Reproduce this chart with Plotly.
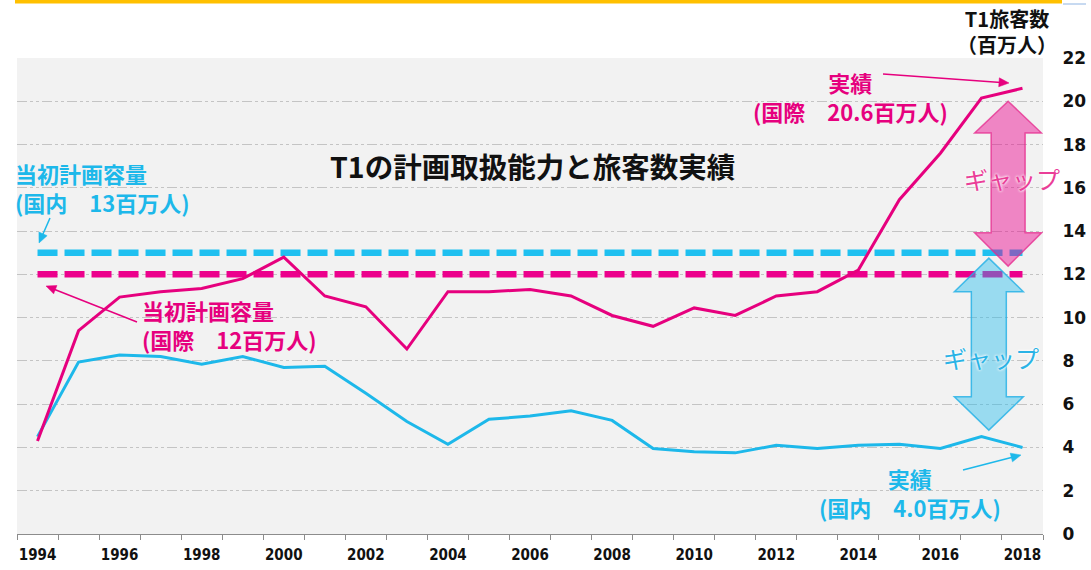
import math
import plotly.graph_objects as go

# ---- data ----
years = list(range(1994, 2019))
intl_actual = [4.3, 9.4, 10.95, 11.2, 11.35, 11.8, 12.8, 11.0, 10.5, 8.55, 11.2, 11.2, 11.3,
               11.0, 10.1, 9.6, 10.45, 10.1, 11.0, 11.2, 12.2, 15.45, 17.6, 20.15, 20.6]
dom_actual = [4.5, 7.95, 8.27, 8.2, 7.85, 8.2, 7.7, 7.75, 6.5, 5.2, 4.15, 5.3, 5.45,
              5.7, 5.25, 3.95, 3.8, 3.75, 4.1, 3.95, 4.1, 4.15, 3.95, 4.5, 4.0]
dom_plan = 13
intl_plan = 12
x_tick_years = list(range(1994, 2019, 2))
x_tick_labels = [str(y) for y in x_tick_years]
y_ticks = list(range(0, 23, 2))

# ---- style ----
PINK = "#e6007e"
BLUE = "#1db8ea"
W, H = 1091, 570
L, R, T, B = 17, 48, 58, 36
PW, PH = W - L - R, H - T - B
JP = "Noto Sans CJK JP"


def px(X):
    return (X - L) / PW


def py(Y):
    return (H - B - Y) / PH


fig = go.Figure()

# plan capacity dashed lines
fig.add_trace(go.Scatter(x=[years[0], years[-1]], y=[dom_plan, dom_plan], mode="lines",
                         line=dict(color="#1fc0f0", width=6.5, dash="20px,7px"),
                         hoverinfo="skip", showlegend=False))
fig.add_trace(go.Scatter(x=[years[0], years[-1]], y=[intl_plan, intl_plan], mode="lines",
                         line=dict(color="#ec008c", width=6.5, dash="20px,7px"),
                         hoverinfo="skip", showlegend=False))
# actual lines
fig.add_trace(go.Scatter(x=years, y=dom_actual, mode="lines",
                         line=dict(color=BLUE, width=3), showlegend=False))
fig.add_trace(go.Scatter(x=years, y=intl_actual, mode="lines",
                         line=dict(color=PINK, width=3), showlegend=False))


def double_arrow(cx, top, hb_top, hb_bot, bot, head_hw, shaft_hw):
    pts = [(cx, top), (cx + head_hw, hb_top), (cx + shaft_hw, hb_top), (cx + shaft_hw, hb_bot),
           (cx + head_hw, hb_bot), (cx, bot), (cx - head_hw, hb_bot), (cx - shaft_hw, hb_bot),
           (cx - shaft_hw, hb_top), (cx - head_hw, hb_top)]
    return "M " + " L ".join(f"{a},{b}" for a, b in pts) + " Z"


shapes = [
    dict(type="path", xref="x", yref="y", layer="above",
         path=double_arrow(2017.65, 20.0, 18.53, 13.92, 12.38, 0.816, 0.414),
         fillcolor="rgba(236,0,140,0.45)", line=dict(color="rgba(230,40,140,0.75)", width=1.5)),
    dict(type="path", xref="x", yref="y", layer="above",
         path=double_arrow(2017.18, 12.75, 11.2, 6.34, 4.8, 0.84, 0.426),
         fillcolor="rgba(31,189,238,0.42)", line=dict(color="rgba(31,175,230,0.8)", width=1.5)),
    # top decorative lines
    dict(type="line", xref="paper", yref="paper", x0=px(15), x1=px(1062), y0=py(1.5), y1=py(1.5),
         line=dict(color="#ffc000", width=4)),
    dict(type="line", xref="paper", yref="paper", x0=px(1063), x1=px(1086), y0=py(4), y1=py(4),
         line=dict(color="#8fb4e3", width=1)),
]


def arrow(tx, ty, hx, hy, color, hl=10, hw=4.5):
    d = math.hypot(hx - tx, hy - ty)
    ux, uy = (hx - tx) / d, (hy - ty) / d
    bx, by = hx - ux * hl, hy - uy * hl
    shapes.append(dict(type="line", xref="paper", yref="paper",
                       x0=px(tx), y0=py(ty), x1=px(bx + ux * 2), y1=py(by + uy * 2),
                       line=dict(color=color, width=1.5)))
    p1 = (bx - uy * hw, by + ux * hw)
    p2 = (bx + uy * hw, by - ux * hw)
    path = (f"M {px(hx)},{py(hy)} L {px(p1[0])},{py(p1[1])} "
            f"L {px(p2[0])},{py(p2[1])} Z")
    shapes.append(dict(type="path", xref="paper", yref="paper", path=path,
                       fillcolor=color, line=dict(color=color, width=0.5)))


ann = []


def text(X, Y, s, color, size, anchor="center", bold=True, fam=JP, shadow=None):
    f = dict(family=fam, size=size, color=color, weight=700 if bold else 400)
    if shadow:
        f["shadow"] = shadow
    ann.append(dict(xref="paper", yref="paper", x=px(X), y=py(Y), text=s, showarrow=False,
                    xanchor=anchor, yanchor="middle", align=anchor if anchor != "center" else "center",
                    font=f))


text(532, 165, "T1の計画取扱能力と旅客数実績", "#111111", 28.5)
text(1007, 32, "T1旅客数<br>（百万人）", "#111111", 20)

text(13, 187, "当初計画容量<br>(国内　13百万人)", BLUE, 22, anchor="left")
arrow(50, 218, 39, 243, BLUE)

text(140, 324, "当初計画容量<br>(国際　12百万人)", PINK, 22, anchor="left")
arrow(137, 322, 46, 286, PINK)

text(850, 96, "実績<br>(国際　20.6百万人)", PINK, 22)
arrow(883, 74, 1009, 83, PINK)

text(910, 492, "実績<br>(国内　4.0百万人)", BLUE, 22)
arrow(963, 470, 1021, 455, BLUE)

glow = "0px 0px 3px white, 0px 0px 3px white"
text(1012, 178, "ギャップ", "#ea3e98", 24, bold=False, shadow=glow)
text(991, 357, "ギャップ", "#2ab3e6", 24, bold=False, shadow=glow)

fig.update_layout(
    width=W, height=H,
    margin=dict(l=L, r=R, t=T, b=B),
    paper_bgcolor="white", plot_bgcolor="#f2f2f2",
    shapes=shapes, annotations=ann,
    xaxis=dict(range=[1993.5, 2018.5], tickmode="array", tickvals=x_tick_years,
               ticktext=x_tick_labels, showgrid=False, zeroline=False, automargin=False,
               showline=True, linecolor="#8c8c8c", linewidth=1,
               ticks="outside", ticklen=7, tickcolor="rgba(0,0,0,0)",
               tickfont=dict(family="DejaVu Sans Condensed, Liberation Sans", size=15,
                             color="#111111", weight=700),
               minor=dict(tickmode="linear", tick0=1993.5, dtick=1, ticks="outside",
                          ticklen=5, tickcolor="#8c8c8c", showgrid=False)),
    yaxis=dict(range=[0, 22], side="right", tickmode="array", tickvals=y_ticks,
               showgrid=True, gridcolor="#c4c4c4", gridwidth=1.3, automargin=False,
               griddash="10px,3px,3px,3px,3px,3px", zeroline=False, showline=False,
               ticks="outside", ticklen=15, tickcolor="rgba(0,0,0,0)",
               tickfont=dict(family="DejaVu Sans", size=17, color="#111111", weight=700)),
)

fig.write_html("out.html", config={"displayModeBar": False},
               post_script="document.body.style.margin='0';document.body.style.overflow='hidden';")
